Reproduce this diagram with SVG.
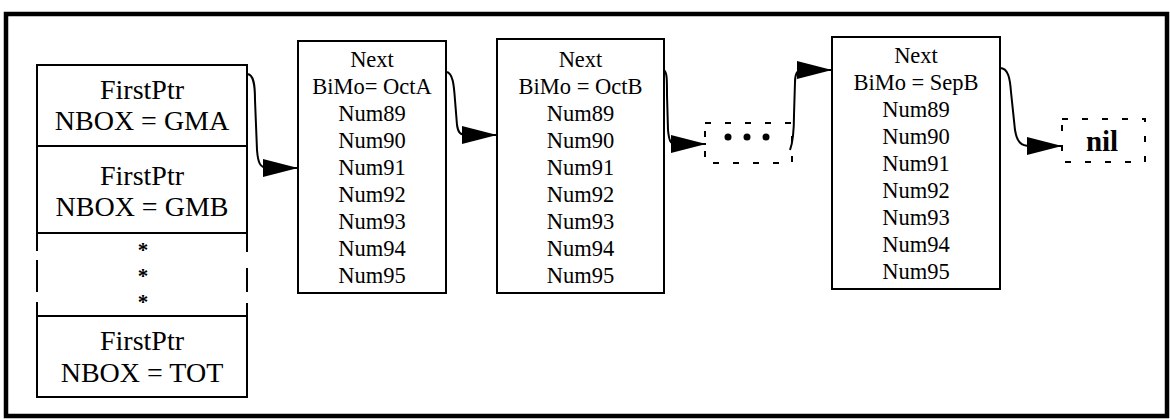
<svg xmlns="http://www.w3.org/2000/svg" width="1170" height="419" viewBox="0 0 1170 419">
<style>
  .frame{fill:none;stroke:#000;stroke-width:4.5}
  .box{fill:#fff;stroke:#000;stroke-width:2}
  .ln{fill:none;stroke:#000;stroke-width:2}
  .dash{fill:none;stroke:#000;stroke-width:2;stroke-dasharray:6,14}
  .t{font-family:"Liberation Serif","Times New Roman",serif;fill:#000;text-anchor:middle}
  .big{font-size:28px}
  .sm{font-size:22.5px}
  .star{font-size:21px;font-weight:bold}
  .nil{font-size:29px;font-weight:bold}
  .conn{fill:none;stroke:#000;stroke-width:2}
</style>
<defs>
  <marker id="ah" markerUnits="userSpaceOnUse" viewBox="0 0 35 18" refX="35" refY="9" markerWidth="35" markerHeight="18" orient="auto">
    <path d="M0,0 L35,9 L0,18 Z" fill="#000"/>
  </marker>
</defs>
<rect width="1170" height="419" fill="#fff"/>
<rect class="frame" x="6" y="14" width="1161" height="402"/>

<g id="stack">
  <g id="gma">
    <rect class="box" x="37" y="65" width="210" height="81"/>
    <text class="t big" x="142" y="99">FirstPtr</text>
    <text class="t big" x="142" y="130">NBOX = GMA</text>
  </g>
  <g id="gmb">
    <rect class="box" x="37" y="146" width="210" height="87"/>
    <text class="t big" x="142" y="185">FirstPtr</text>
    <text class="t big" x="142" y="216">NBOX = GMB</text>
  </g>
  <g id="ellipsis">
    <path class="ln" d="M37,233 V251 M37,260 V292 M37,302 V316 M247,233 V252 M247,268 V292 M247,303 V316"/>
    <text class="t star" x="143" y="257">*</text>
    <text class="t star" x="143" y="283">*</text>
    <text class="t star" x="143" y="309">*</text>
  </g>
  <g id="tot">
    <rect class="box" x="37" y="316" width="210" height="81"/>
    <text class="t big" x="142" y="350">FirstPtr</text>
    <text class="t big" x="142" y="382">NBOX = TOT</text>
  </g>
</g>

<g id="octA">
  <rect class="box" x="298" y="41" width="148" height="252"/>
  <text class="t sm" x="372" y="67">Next</text>
  <text class="t sm" x="372" y="94">BiMo= OctA</text>
  <text class="t sm" x="372" y="121">Num89</text>
  <text class="t sm" x="372" y="148">Num90</text>
  <text class="t sm" x="372" y="175">Num91</text>
  <text class="t sm" x="372" y="202">Num92</text>
  <text class="t sm" x="372" y="229">Num93</text>
  <text class="t sm" x="372" y="256">Num94</text>
  <text class="t sm" x="372" y="283">Num95</text>
</g>

<g id="octB">
  <rect class="box" x="497" y="39" width="167" height="254"/>
  <text class="t sm" x="580.5" y="67">Next</text>
  <text class="t sm" x="580.5" y="94">BiMo = OctB</text>
  <text class="t sm" x="580.5" y="121">Num89</text>
  <text class="t sm" x="580.5" y="148">Num90</text>
  <text class="t sm" x="580.5" y="175">Num91</text>
  <text class="t sm" x="580.5" y="202">Num92</text>
  <text class="t sm" x="580.5" y="229">Num93</text>
  <text class="t sm" x="580.5" y="256">Num94</text>
  <text class="t sm" x="580.5" y="283">Num95</text>
</g>

<g id="dots">
  <rect class="dash" x="705" y="123" width="87" height="40"/>
  <circle cx="728" cy="137" r="3.5"/>
  <circle cx="747" cy="137" r="3.5"/>
  <circle cx="766" cy="137" r="3.5"/>
</g>

<g id="sepB">
  <rect class="box" x="832" y="37" width="168" height="252"/>
  <text class="t sm" x="916" y="63">Next</text>
  <text class="t sm" x="916" y="90">BiMo = SepB</text>
  <text class="t sm" x="916" y="117">Num89</text>
  <text class="t sm" x="916" y="144">Num90</text>
  <text class="t sm" x="916" y="171">Num91</text>
  <text class="t sm" x="916" y="198">Num92</text>
  <text class="t sm" x="916" y="225">Num93</text>
  <text class="t sm" x="916" y="252">Num94</text>
  <text class="t sm" x="916" y="279">Num95</text>
</g>

<g id="nil">
  <rect class="dash" x="1062" y="119" width="83" height="43"/>
  <text class="t nil" x="1102" y="151">nil</text>
</g>

<g id="connectors">
  <path class="conn" marker-end="url(#ah)" d="M247,74 C254,74 255,86 255,100 L257,150 C258,163 260,168 268,168 L298,168"/>
  <path class="conn" marker-end="url(#ah)" d="M446,72 C453,72 454,86 455,100 L457,125 C458,132 460,135 466,135 L497,135"/>
  <path class="conn" marker-end="url(#ah)" d="M664,70 C667,72 667,80 667,95 L668,130 C669,140 670,144 676,144 L706,144"/>
  <path class="conn" marker-end="url(#ah)" d="M790,150 C793,142 794,130 794,115 L795,82 C795,74 797,70 802,70 L832,70"/>
  <path class="conn" marker-end="url(#ah)" d="M1000,68 C1008,68 1010,78 1011,92 L1015,130 C1017,142 1021,146 1030,146 L1062,146"/>
</g>
</svg>
